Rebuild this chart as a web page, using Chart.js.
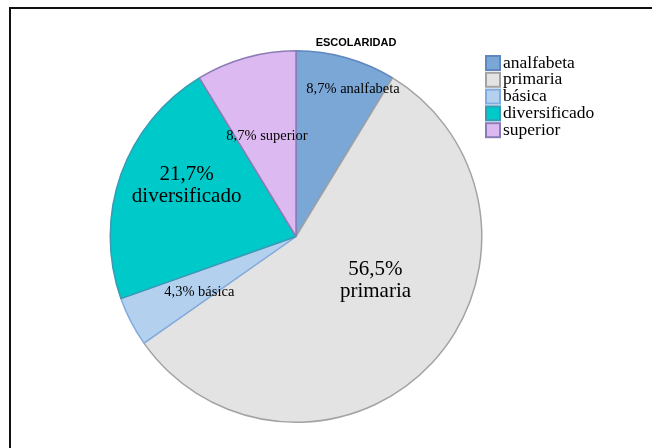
<!DOCTYPE html>
<html>
<head>
<meta charset="utf-8">
<script src="https://cdn.jsdelivr.net/npm/chart.js@4/dist/chart.umd.min.js"></script>
<style>
  html, body { margin: 0; padding: 0; background: #fff; }
  #wrap { position: relative; width: 652px; height: 448px; overflow: hidden; }
  #frame {
    position: absolute; left: 9px; top: 7px; width: 700px; height: 500px;
    border-top: 2px solid #111; border-left: 2px solid #111;
  }
  canvas { position: absolute; left: 0; top: 0; }
</style>
</head>
<body>
<div id="wrap">
  <div id="frame"></div>
  <canvas id="pie" width="652" height="448"></canvas>
</div>
<script>
// escolaridad, porcentajes
const categories = ['analfabeta', 'primaria', 'básica', 'diversificado', 'superior'];
const percents = [8.7, 56.5, 4.3, 21.7, 8.7];
const fills = ['#7ba7d6', '#e3e3e3', '#b3d1ef', '#00c9c9', '#ddb9f1'];
const edges = ['#6088c0', '#a3a3a3', '#82ace0', '#3a9ab3', '#8c7cb6'];

// where each label sits: fraction of radius, angle nudge (deg), font size, split into two lines
const labelPlace = [
  { r: 0.85, da: 5.5, size: 14.5, twoLines: false },
  { r: 0.49, da: -14, size: 21, twoLines: true },
  { r: 0.60, da: -2.5, size: 14.5, twoLines: false },
  { r: 0.65, da: 5.5, size: 21, twoLines: true },
  { r: 0.56, da: -0.5, size: 14.5, twoLines: false }
];

const serif = '"Liberation Serif", "DejaVu Serif", serif';

const pieDecor = {
  id: 'pieDecor',
  afterDatasetsDraw(chart) {
    const ctx = chart.ctx;
    const arcs = chart.getDatasetMeta(0).data;
    ctx.save();
    ctx.fillStyle = '#000';
    ctx.textAlign = 'center';
    ctx.textBaseline = 'middle';
    arcs.forEach((arc, i) => {
      const p = labelPlace[i];
      const mid = (arc.startAngle + arc.endAngle) / 2 + p.da * Math.PI / 180;
      const x = arc.x + Math.cos(mid) * arc.outerRadius * p.r;
      const y = arc.y + Math.sin(mid) * arc.outerRadius * p.r;
      const pct = percents[i].toFixed(1).replace('.', ',') + '%';
      ctx.font = p.size + 'px ' + serif;
      if (p.twoLines) {
        ctx.fillText(pct, x, y - p.size * 0.52);
        ctx.fillText(categories[i], x, y + p.size * 0.52);
      } else {
        ctx.fillText(pct + ' ' + categories[i], x, y);
      }
    });

    // title
    ctx.font = 'bold 11px "Liberation Sans", Arial, sans-serif';
    ctx.fillText('ESCOLARIDAD', 356, 43);

    // legend
    ctx.textAlign = 'left';
    ctx.font = '17.5px ' + serif;
    categories.forEach((c, i) => {
      const y = 63 + i * 16.8;
      ctx.fillStyle = fills[i];
      ctx.fillRect(486, y - 7, 14, 14);
      ctx.strokeStyle = edges[i];
      ctx.lineWidth = 2;
      ctx.strokeRect(486, y - 7, 14, 14);
      ctx.fillStyle = '#000';
      ctx.fillText(c, 503, y);
    });
    ctx.restore();
  }
};

new Chart(document.getElementById('pie'), {
  type: 'pie',
  data: {
    labels: categories,
    datasets: [{
      data: percents,
      backgroundColor: fills,
      borderColor: edges,
      borderWidth: 1.5
    }]
  },
  options: {
    responsive: false,
    animation: false,
    layout: { padding: { left: 108, right: 168, top: 50, bottom: 25 } },
    plugins: {
      legend: { display: false },
      title: { display: false },
      tooltip: { enabled: false }
    }
  },
  plugins: [pieDecor]
});
</script>
</body>
</html>
